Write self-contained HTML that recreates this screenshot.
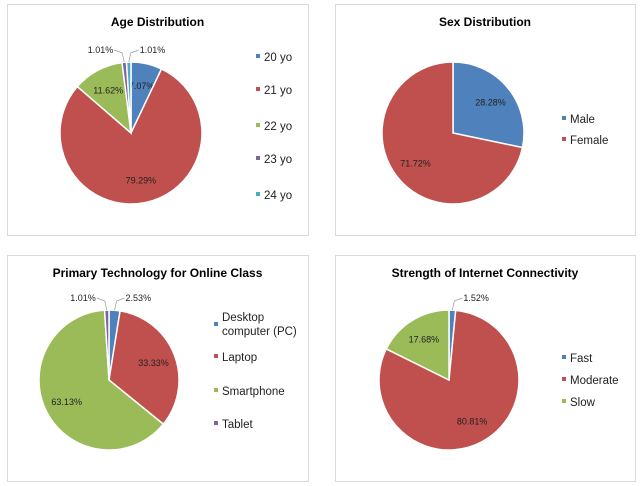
<!DOCTYPE html>
<html><head><meta charset="utf-8"><style>
body{margin:0;background:#fff;font-family:"Liberation Sans",Arial,sans-serif}
svg{display:block}
</style></head><body>
<svg id="chart" width="642" height="486" viewBox="0 0 642 486"></svg>
<script>
// Age Distribution
const ageCategories = ["20 yo","21 yo","22 yo","23 yo","24 yo"];
const ageValues = [7.07, 79.29, 11.62, 1.01, 1.01];
// Sex Distribution
const sexCategories = ["Male","Female"];
const sexValues = [28.28, 71.72];
// Primary Technology
const techCategories = ["Desktop computer (PC)","Laptop","Smartphone","Tablet"];
const techValues = [2.53, 33.33, 63.13, 1.01];
// Internet Connectivity
const netCategories = ["Fast","Moderate","Slow"];
const netValues = [1.52, 80.81, 17.68];

const colors = ["#4f81bd","#c0504d","#9bbb59","#8064a2","#4bacc6"];
const NS = "http://www.w3.org/2000/svg";
const svg = document.getElementById("chart");
function el(tag, attrs, parent){const e=document.createElementNS(NS,tag);for(const k in attrs)e.setAttribute(k,attrs[k]);(parent||svg).appendChild(e);return e;}

// side: 0 = inside, -1 = outside left, 1 = outside right
const panels = [
 {name:"age",title:"Age Distribution",cats:ageCategories,vals:ageValues,box:[7,4,301,231],cx:131,cy:133,r:71,
  legX:262,legY:[57,90,126,159,195],side:[0,0,0,-1,1]},
 {name:"sex",title:"Sex Distribution",cats:sexCategories,vals:sexValues,box:[335,4,300,231],cx:453,cy:133,r:71,
  legX:568,legY:[119,140],side:[0,0]},
 {name:"tech",title:"Primary Technology for Online Class",cats:techCategories,vals:techValues,box:[7,255,301,226],cx:109,cy:380,r:70,
  legX:220,legY:[325,357,391,424],side:[1,0,0,-1]},
 {name:"internet",title:"Strength of Internet Connectivity",cats:netCategories,vals:netValues,box:[335,255,300,226],cx:449,cy:380,r:70,
  legX:568,legY:[358,380,402],side:[1,0,0]}
];

panels.forEach(p=>{
  const g = el("g",{});
  
  
  const b = el("rect",{x:p.box[0]+.5,y:p.box[1]+.5,width:p.box[2],height:p.box[3],fill:"#fff",stroke:"#d9d9d9","stroke-width":1},g);
  
  
  const t = el("text",{x:p.box[0]+p.box[2]/2,y:p.box[1]+22,"text-anchor":"middle","font-size":"12","font-weight":"bold",fill:"#000"},g);
  t.textContent = p.title;
  
  
  const total = p.vals.reduce((a,c)=>a+c,0);
  let acc = 0;
  p.vals.forEach((v,i)=>{
    const a0 = acc/total*2*Math.PI; acc+=v; const a1 = acc/total*2*Math.PI;
    const x0=p.cx+p.r*Math.sin(a0), y0=p.cy-p.r*Math.cos(a0);
    const x1=p.cx+p.r*Math.sin(a1), y1=p.cy-p.r*Math.cos(a1);
    const large = (a1-a0)>Math.PI?1:0;
    const s = el("path",{d:`M${p.cx},${p.cy}L${x0},${y0}A${p.r},${p.r} 0 ${large} 1 ${x1},${y1}Z`,fill:colors[i],stroke:"#fff","stroke-width":1.5},g);
    
    
    const am=(a0+a1)/2;
    const lab = v.toFixed(2)+"%";
    const side = p.side[i];
    if(side===0){
      const rr=p.r*0.68;
      const tx = el("text",{x:p.cx+rr*Math.sin(am),y:p.cy-rr*Math.cos(am)+3,"text-anchor":"middle","font-size":"9",fill:"#222"},g);
      tx.textContent=lab;
      
      
    } else {
      const ex=p.cx+p.r*Math.sin(am), ey=p.cy-p.r*Math.cos(am);
      const left = side<0;
      const ly=p.cy-p.r-10;
      const kx = ex+(left?-2:2), lx = kx+(left?-8:8);
      const ln = el("polyline",{points:`${ex},${ey} ${kx},${ly+1} ${lx},${ly-2}`,fill:"none",stroke:"#999","stroke-width":0.7},g);
      
      
      const tx = el("text",{x:left?lx-1:lx+1,y:ly+1,"text-anchor":left?"end":"start","font-size":"9",fill:"#222"},g);
      tx.textContent=lab;
      
      
    }
  });
  p.cats.forEach((c,i)=>{
    const y=p.legY[i];
    const m = el("rect",{x:p.legX-6,y:y-3,width:4,height:4,fill:colors[i]},g);
    
    
    const tx = el("text",{x:p.legX+2,y:y+4,"font-size":"11.5",fill:"#222"},g);
    
    
    if(c==="Desktop computer (PC)"){
      tx.setAttribute("y",y-4);
      const a=el("tspan",{x:p.legX+2},tx);a.textContent="Desktop";
      const bb=el("tspan",{x:p.legX+2,dy:14},tx);bb.textContent="computer (PC)";
    } else tx.textContent=c;
  });
});
</script>
</body></html>
